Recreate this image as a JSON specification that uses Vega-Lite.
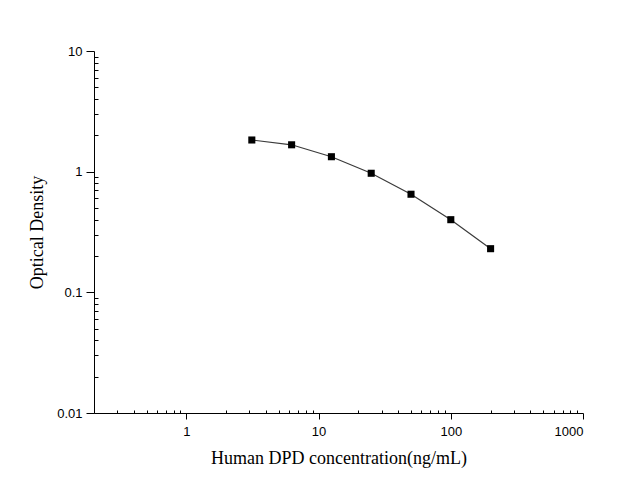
{
  "$schema": "https://vega.github.io/schema/vega-lite/v6.json",
  "width": 489,
  "height": 362,
  "autosize": {"type": "none"},
  "padding": {"left": 94, "top": 51, "right": 37, "bottom": 87},
  "background": "white",
  "config": {"view": {"stroke": null}},
  "datasets": {
    "pts": [
      {"conc": 3.125, "od": 1.83},
      {"conc": 6.25, "od": 1.67},
      {"conc": 12.5, "od": 1.33},
      {"conc": 25, "od": 0.97},
      {"conc": 50, "od": 0.65},
      {"conc": 100, "od": 0.4},
      {"conc": 200, "od": 0.23}
    ]
  },
  "data": {"name": "pts"},
  "encoding": {
    "x": {"field": "conc", "type": "quantitative", "scale": {"type": "log", "domain": [0.2, 1000], "nice": false}},
    "y": {"field": "od", "type": "quantitative", "scale": {"type": "log", "domain": [0.01, 10], "nice": false}}
  },
  "layer": [
    {
      "mark": {"type": "line", "color": "#3a3a3a", "strokeWidth": 1.2},
      "encoding": {
        "x": {"field": "conc", "type": "quantitative", "scale": {"type": "log", "domain": [0.2, 1000], "nice": false},
          "axis": {"orient": "bottom", "values": [1, 10, 100, 1000], "format": "~g", "title": "Human DPD concentration(ng/mL)", "grid": false,
            "domainColor": "black", "domainWidth": 1, "tickColor": "black", "tickSize": 6, "labelFont": "Liberation Sans", "labelFontSize": 13, "labelColor": "black", "labelPadding": 6,
            "titleFont": "Liberation Serif", "titleFontSize": 18, "titleFontWeight": "normal", "titleColor": "black", "titlePadding": 11}},
        "y": {"field": "od", "type": "quantitative", "scale": {"type": "log", "domain": [0.01, 10], "nice": false},
          "axis": {"orient": "left", "values": [0.01, 0.1, 1, 10], "format": "~g", "title": "Optical Density", "grid": false,
            "domainColor": "black", "domainWidth": 1, "tickColor": "black", "tickSize": 8, "labelFont": "Liberation Sans", "labelFontSize": 13, "labelColor": "black", "labelPadding": 4,
            "titleFont": "Liberation Serif", "titleFontSize": 18, "titleFontWeight": "normal", "titleColor": "black", "titlePadding": 10}}
      }
    },
    {
      "mark": {"type": "point", "shape": "square", "filled": true, "color": "black", "size": 50, "opacity": 1},
      "encoding": {
        "x": {"field": "conc", "type": "quantitative", "scale": {"type": "log", "domain": [0.2, 1000], "nice": false},
          "axis": {"orient": "bottom", "values": [0.2,0.3,0.4,0.5,0.6,0.7,0.8,0.9,2,3,4,5,6,7,8,9,20,30,40,50,60,70,80,90,200,300,400,500,600,700,800,900], "labels": false, "title": null, "grid": false, "domain": false, "tickColor": "black", "tickSize": -3}},
        "y": {"field": "od", "type": "quantitative", "scale": {"type": "log", "domain": [0.01, 10], "nice": false},
          "axis": {"orient": "left", "values": [0.02,0.03,0.04,0.05,0.06,0.07,0.08,0.09,0.2,0.3,0.4,0.5,0.6,0.7,0.8,0.9,2,3,4,5,6,7,8,9], "labels": false, "title": null, "grid": false, "domain": false, "tickColor": "black", "tickSize": -4}}
      }
    }
  ],
  "resolve": {"axis": {"x": "independent", "y": "independent"}}
}
